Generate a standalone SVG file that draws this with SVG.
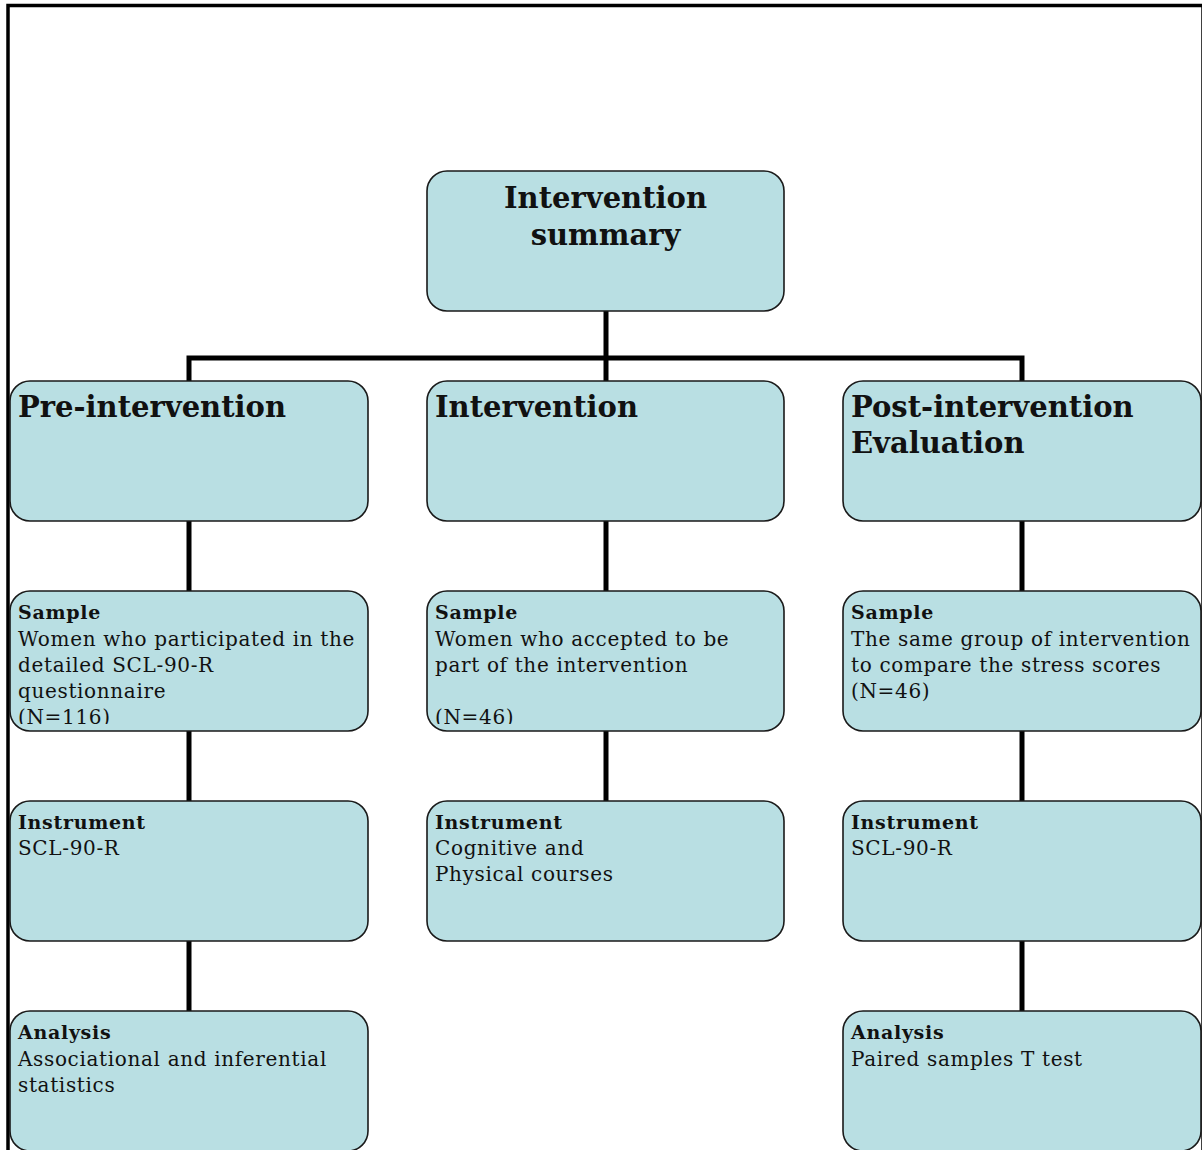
<svg xmlns="http://www.w3.org/2000/svg" width="1202" height="1150" viewBox="0 0 1202 1150">
<style>
.box{fill:#B9DFE3;stroke:#1a1a1a;stroke-width:1.6}
.conn{stroke:#000;stroke-width:5;fill:none}
.h1{font-family:"DejaVu Serif","Liberation Serif",serif;font-weight:bold;font-size:29px;fill:#111}
.h2{font-family:"DejaVu Serif","Liberation Serif",serif;font-weight:bold;font-size:19px;letter-spacing:0.7px;fill:#111}
.t{font-family:"DejaVu Serif","Liberation Serif",serif;font-size:20px;letter-spacing:0.65px;fill:#111}
</style>
<defs>
<clipPath id="clipS1"><rect x="10" y="591" width="358" height="133"/></clipPath>
<clipPath id="clipS2"><rect x="427" y="591" width="357" height="133"/></clipPath>
</defs>
<rect x="8" y="5.5" width="1195" height="1200" fill="none" stroke="#000" stroke-width="3.5"/>
<g id="connectors">
<path class="conn" d="M606 311V381M189 381V358H1022V381"/>
<path class="conn" d="M189 521V591M189 731V801M189 941V1011"/>
<path class="conn" d="M606 521V591M606 731V801"/>
<path class="conn" d="M1022 521V591M1022 731V801M1022 941V1011"/>
</g>
<g id="summary">
<rect class="box" x="427" y="171" width="357" height="140" rx="20"/>
<text class="h1" x="605.5" y="208" text-anchor="middle">Intervention</text>
<text class="h1" x="605.5" y="245" text-anchor="middle">summary</text>
</g>
<g id="pre">
<rect class="box" x="10" y="381" width="358" height="140" rx="20"/>
<text class="h1" x="18" y="417">Pre-intervention</text>
</g>
<g id="intervention">
<rect class="box" x="427" y="381" width="357" height="140" rx="20"/>
<text class="h1" x="435" y="417">Intervention</text>
</g>
<g id="post">
<rect class="box" x="843" y="381" width="358" height="140" rx="20"/>
<text class="h1" x="851" y="417">Post-intervention</text>
<text class="h1" x="851" y="453">Evaluation</text>
</g>
<g id="pre-sample">
<rect class="box" x="10" y="591" width="358" height="140" rx="20"/>
<g clip-path="url(#clipS1)">
<text class="h2" x="18" y="619">Sample</text>
<text class="t" x="18" y="646">Women who participated in the</text>
<text class="t" x="18" y="672">detailed SCL-90-R</text>
<text class="t" x="18" y="698">questionnaire</text>
<text class="t" x="18" y="724">(N=116)</text>
</g>
</g>
<g id="int-sample">
<rect class="box" x="427" y="591" width="357" height="140" rx="20"/>
<g clip-path="url(#clipS2)">
<text class="h2" x="435" y="619">Sample</text>
<text class="t" x="435" y="646">Women who accepted to be</text>
<text class="t" x="435" y="672">part of the intervention</text>
<text class="t" x="435" y="724">(N=46)</text>
</g>
</g>
<g id="post-sample">
<rect class="box" x="843" y="591" width="358" height="140" rx="20"/>
<text class="h2" x="851" y="619">Sample</text>
<text class="t" x="851" y="646">The same group of intervention</text>
<text class="t" x="851" y="672">to compare the stress scores</text>
<text class="t" x="851" y="698">(N=46)</text>
</g>
<g id="pre-instrument">
<rect class="box" x="10" y="801" width="358" height="140" rx="20"/>
<text class="h2" x="18" y="829">Instrument</text>
<text class="t" x="18" y="855">SCL-90-R</text>
</g>
<g id="int-instrument">
<rect class="box" x="427" y="801" width="357" height="140" rx="20"/>
<text class="h2" x="435" y="829">Instrument</text>
<text class="t" x="435" y="855">Cognitive and</text>
<text class="t" x="435" y="881">Physical courses</text>
</g>
<g id="post-instrument">
<rect class="box" x="843" y="801" width="358" height="140" rx="20"/>
<text class="h2" x="851" y="829">Instrument</text>
<text class="t" x="851" y="855">SCL-90-R</text>
</g>
<g id="pre-analysis">
<rect class="box" x="10" y="1011" width="358" height="140" rx="20"/>
<text class="h2" x="18" y="1039">Analysis</text>
<text class="t" x="18" y="1066">Associational and inferential</text>
<text class="t" x="18" y="1092">statistics</text>
</g>
<g id="post-analysis">
<rect class="box" x="843" y="1011" width="358" height="140" rx="20"/>
<text class="h2" x="851" y="1039">Analysis</text>
<text class="t" x="851" y="1066">Paired samples T test</text>
</g>
</svg>
